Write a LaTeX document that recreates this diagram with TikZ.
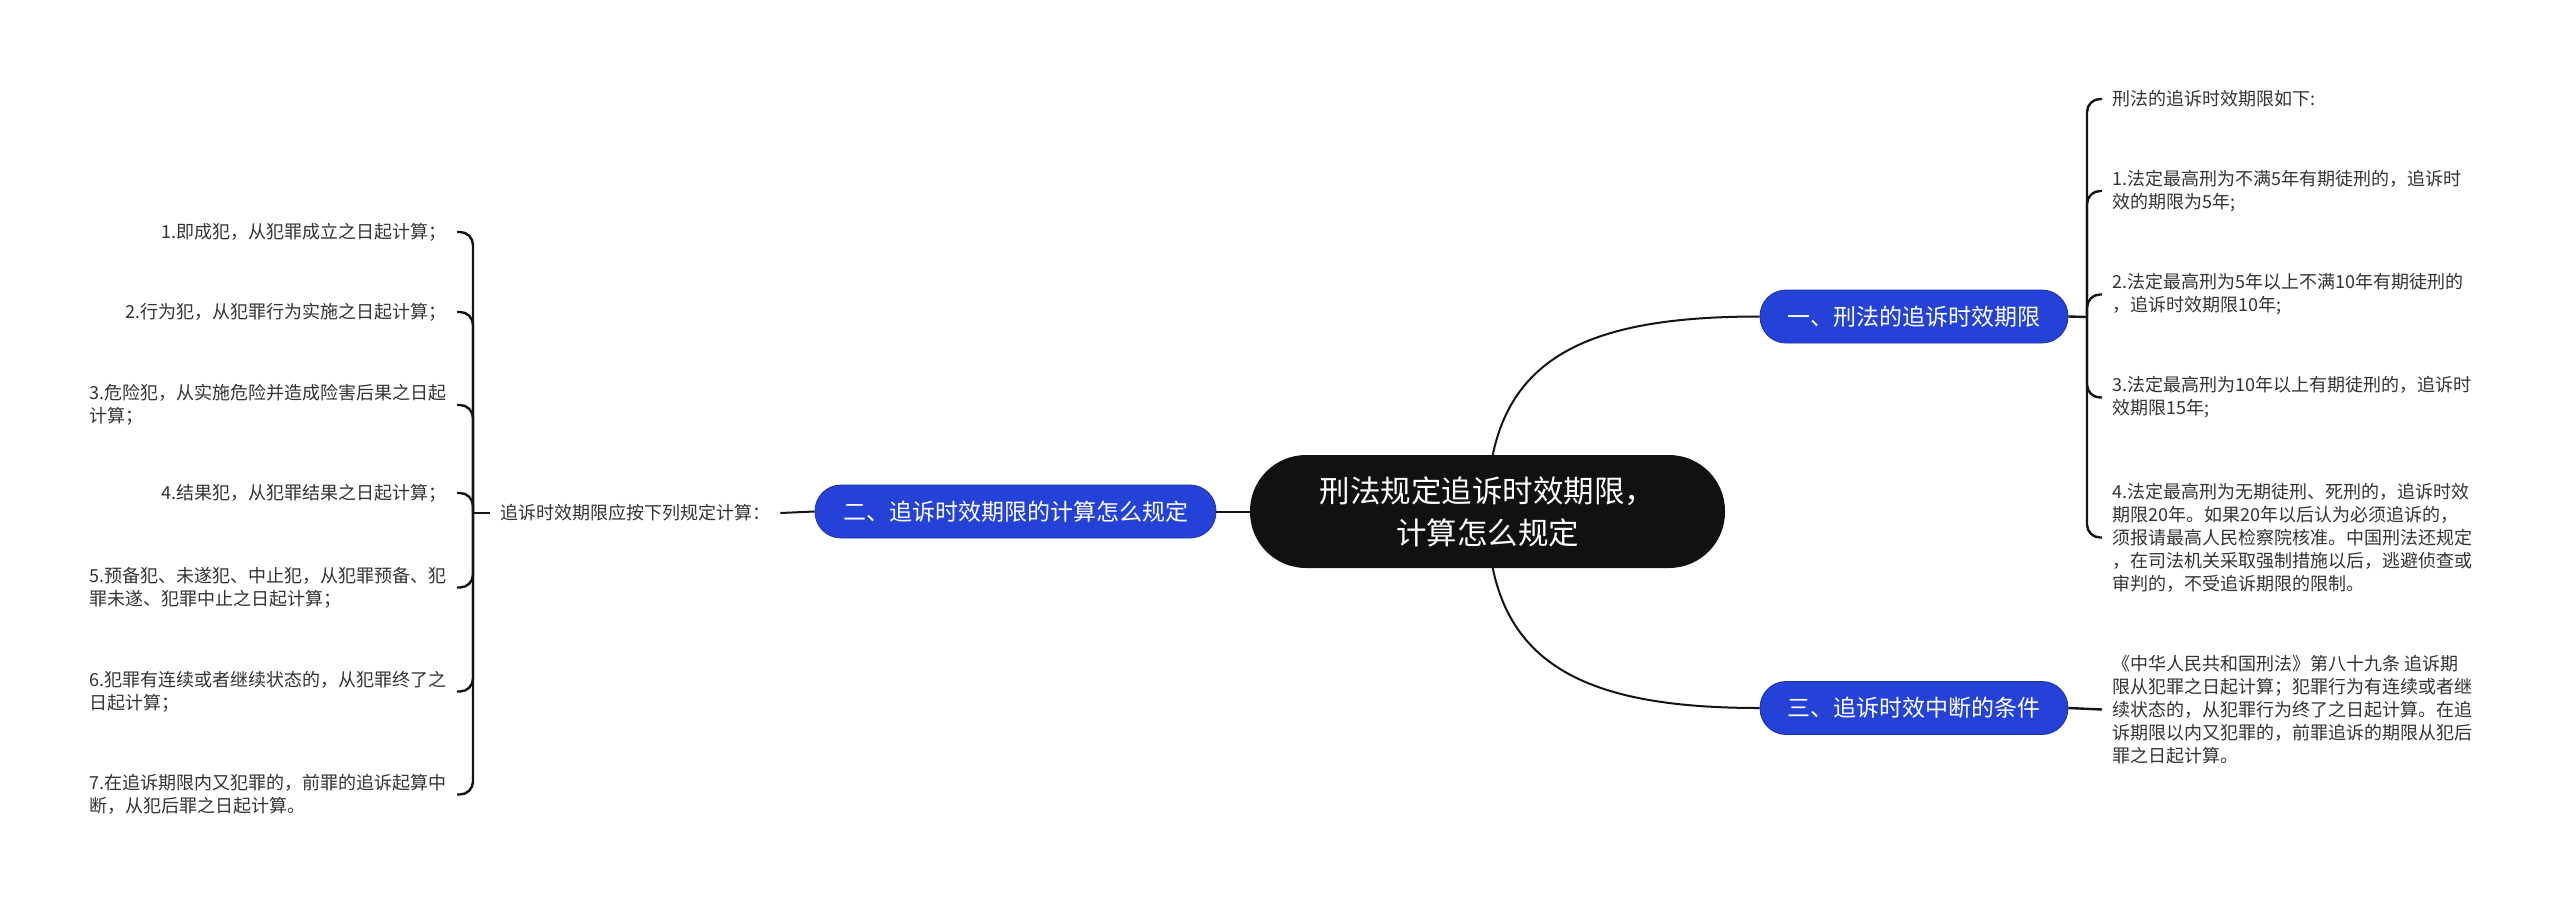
\documentclass[tikz,border=0pt]{standalone}
\usepackage{fontspec}
\setmainfont{Noto Sans CJK SC}
\usepackage{xcolor}
\usepackage{tikz}
\usetikzlibrary{backgrounds}
\definecolor{rootfill}{HTML}{111111}
\definecolor{branchblue}{HTML}{2542D8}
\definecolor{leaftext}{HTML}{333333}
\definecolor{linecol}{HTML}{141414}

\begin{document}
\begin{tikzpicture}[x=1pt,y=-1pt,
  root/.style={fill=rootfill,text=white,rounded corners=56pt,minimum width=475pt,
    minimum height=113pt,align=center,font=\fontsize{30.5}{42}\selectfont,inner sep=0pt},
  branch/.style={fill=branchblue,draw=branchblue!75!black,line width=0.8pt,text=white,
    rounded corners=26pt,minimum height=53pt,font=\fontsize{23}{28}\selectfont,inner sep=0pt},
  leaf/.style={text=leaftext,align=left,font=\fontsize{18}{23}\selectfont,
    inner xsep=10pt,inner ysep=2pt},
  conn/.style={draw=linecol,line width=2pt},
  hook/.style={conn,line width=2.4pt,rounded corners=13pt}
]
\useasboundingbox (0,0) rectangle (2560,903);

\node[root] (root) at (1487.5,511.5) {刑法规定追诉时效期限，\\计算怎么规定};
\node[branch,minimum width=308pt] (b1) at (1914,316.5) {一、刑法的追诉时效期限};
\node[branch,minimum width=308pt] (b3) at (1914,708) {三、追诉时效中断的条件};
\node[branch,minimum width=401pt] (b2) at (1015.5,511.5) {二、追诉时效期限的计算怎么规定};

% right side
\coordinate (jr) at (2087,317);
\node[leaf,anchor=west] (r0) at (2102,99) {刑法的追诉时效期限如下:};
\node[leaf,anchor=west] (r1) at (2102,191) {1.法定最高刑为不满5年有期徒刑的，追诉时\\效的期限为5年;};
\node[leaf,anchor=west] (r2) at (2102,294.5) {2.法定最高刑为5年以上不满10年有期徒刑的\\，追诉时效期限10年;};
\node[leaf,anchor=west] (r3) at (2102,397.5) {3.法定最高刑为10年以上有期徒刑的，追诉时\\效期限15年;};
\node[leaf,anchor=west] (r4) at (2102,537.5) {4.法定最高刑为无期徒刑、死刑的，追诉时效\\期限20年。如果20年以后认为必须追诉的，\\须报请最高人民检察院核准。中国刑法还规定\\，在司法机关采取强制措施以后，逃避侦查或\\审判的，不受追诉期限的限制。};
\node[leaf,anchor=west] (r5) at (2102,709.5) {《中华人民共和国刑法》第八十九条 追诉期\\限从犯罪之日起计算；犯罪行为有连续或者继\\续状态的，从犯罪行为终了之日起计算。在追\\诉期限以内又犯罪的，前罪追诉的期限从犯后\\罪之日起计算。};

% left side
\coordinate (jl) at (473,513);
\node[leaf,anchor=west] (calc) at (490,513) {追诉时效期限应按下列规定计算：};
\node[leaf,anchor=east] (l1) at (457,232) {1.即成犯，从犯罪成立之日起计算；};
\node[leaf,anchor=east] (l2) at (457,312) {2.行为犯，从犯罪行为实施之日起计算；};
\node[leaf,anchor=east] (l3) at (457,405) {3.危险犯，从实施危险并造成险害后果之日起\\计算；};
\node[leaf,anchor=east] (l4) at (457,493) {4.结果犯，从犯罪结果之日起计算；};
\node[leaf,anchor=east] (l5) at (457,587.5) {5.预备犯、未遂犯、中止犯，从犯罪预备、犯\\罪未遂、犯罪中止之日起计算；};
\node[leaf,anchor=east] (l6) at (457,691.5) {6.犯罪有连续或者继续状态的，从犯罪终了之\\日起计算；};
\node[leaf,anchor=east] (l7) at (457,794.5) {7.在追诉期限内又犯罪的，前罪的追诉起算中\\断，从犯后罪之日起计算。};

% connectors
\begin{scope}[on background layer]
\draw[conn] (root.center) .. controls +(0,-151) and +(-180,0) .. (b1.west);
\draw[conn] (root.center) .. controls +(0,151) and +(-180,0) .. (b3.west);
\end{scope}
\draw[conn] (root.west) -- (b2.east);
\draw[conn] (b2.west) -- (calc.east);
\draw[hook] (calc.west) -- (jl);
\foreach \i in {1,...,7} \draw[hook] (jl) |- (l\i.east);
\draw[hook] (b1.east) -- (jr);
\foreach \i in {0,...,4} \draw[hook] (jr) |- (r\i.west);
\draw[hook] (b3.east) -- (r5.west);
\end{tikzpicture}
\end{document}
